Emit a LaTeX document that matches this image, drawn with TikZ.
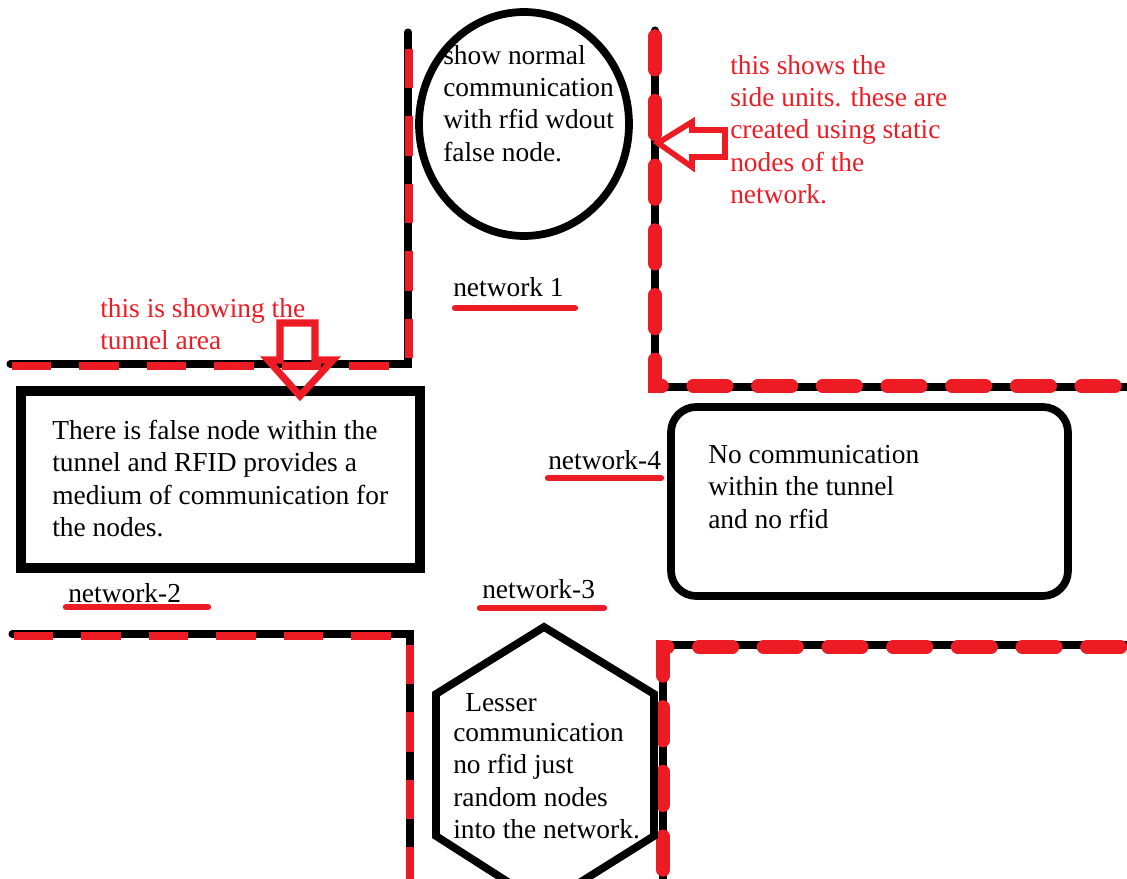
\documentclass[tikz,border=0pt]{standalone}
\usepackage{fontspec}
\setmainfont{Liberation Serif}
\usetikzlibrary{positioning}
\definecolor{paintred}{RGB}{237,28,36}
\tikzset{
		wall/.style={
			line width=5pt,
			line cap=round
		},
		wall dash/.style={
			paintred,
			line width=5pt,
			dash pattern=on 28pt off 20pt
		},
		blob dash/.style={
			paintred,
			line width=9.5pt,
			line cap=round,
			dash pattern=on 24pt off 22pt
		},
		note/.style={
			anchor=north west,
			align=left,
			inner sep=0pt,
			font=\fontsize{19.5}{23}\selectfont
		},
		red note/.style={note, text=paintred},
		net label/.style={
			anchor=base west,
			inner sep=0pt,
			font=\fontsize{19.5}{23}\selectfont
		},
		underline/.style={paintred, line width=4.5pt, line cap=round},
		hollow arrow/.style={paintred, line width=4pt, line join=miter}
	}
\begin{document}
\begin{tikzpicture}[x=0.025cm, y=-0.025cm]
	\useasboundingbox (0,0) rectangle (1127,879);
	% tunnel walls
	\draw [wall] (10,364) -- (408,364) -- (408,32);
	\draw [wall dash] (12,366) -- (409,366) -- (409,34);
	\draw [wall] (655,30) -- (655,387) -- (1127,387);
	\draw [blob dash] (655,36) -- (655,386) -- (1127,386);
	\draw [wall] (12,634) -- (410,634) -- (410,879);
	\draw [wall dash] (14,636) -- (410,636) -- (410,879);
	\draw [wall] (663,879) -- (663,645) -- (1127,645);
	\draw [blob dash] (663,870) -- (663,647) -- (1127,647);

	% the four areas
	\draw [line width=5.5pt] (524,124) ellipse [x radius=105, y radius=112];
	\draw [line width=6.5pt] (21,391) rectangle (420,568);
	\draw [line width=5.5pt, rounded corners=18pt] (671,407) rectangle (1068,596);
	\draw [line width=5.5pt, line join=miter] (544,627) -- (654,694) -- (654,836)
		-- (544,905) -- (436,836) -- (436,694) -- cycle;

	\node [note] (normal) at (443,45) {show normal\\communication\\with rfid wdout\\false node.};
	\node [note] (falsenode) at (52,420) {There is false node within the\\tunnel and RFID provides a\\medium of communication for\\the nodes.};
	\node [note] (nocomm) at (708,445) {No communication\\within the tunnel\\and no rfid};
	\node [net label] (lesser) at (465,711) {Lesser};
	\node [note] (random) at (453,723) {communication\\no rfid just\\random nodes\\into the network.};

	% red remarks and arrows
	\node [red note] (sideunits) at (730,55) {this shows the\\side units. these are\\created using static\\nodes of the\\network.};
	\node [red note] (tunnelarea) at (100,298) {this is showing the\\tunnel area};
	\draw [hollow arrow] (658,143) -- (692,122) -- (692,130) -- (725,130) -- (725,157)
		-- (692,157) -- (692,167) -- cycle;
	\draw [hollow arrow, line width=5pt] (280,323) -- (315,323) -- (315,360) -- (333,360)
		-- (300,396) -- (268,360) -- (280,360) -- cycle;

	% network names
	\node [net label] (net1) at (453,297) {network 1};
	\node [net label] (net2) at (68,602) {network-2};
	\node [net label] (net3) at (482,598) {network-3};
	\node [net label] (net4) at (548,470) {network-4};
	\draw [underline] (455,308) -- (575,308);
	\draw [underline] (66,607) -- (208,607);
	\draw [underline] (480,608) -- (604,608);
	\draw [underline] (548,478) -- (661,478);
\end{tikzpicture}
\end{document}
